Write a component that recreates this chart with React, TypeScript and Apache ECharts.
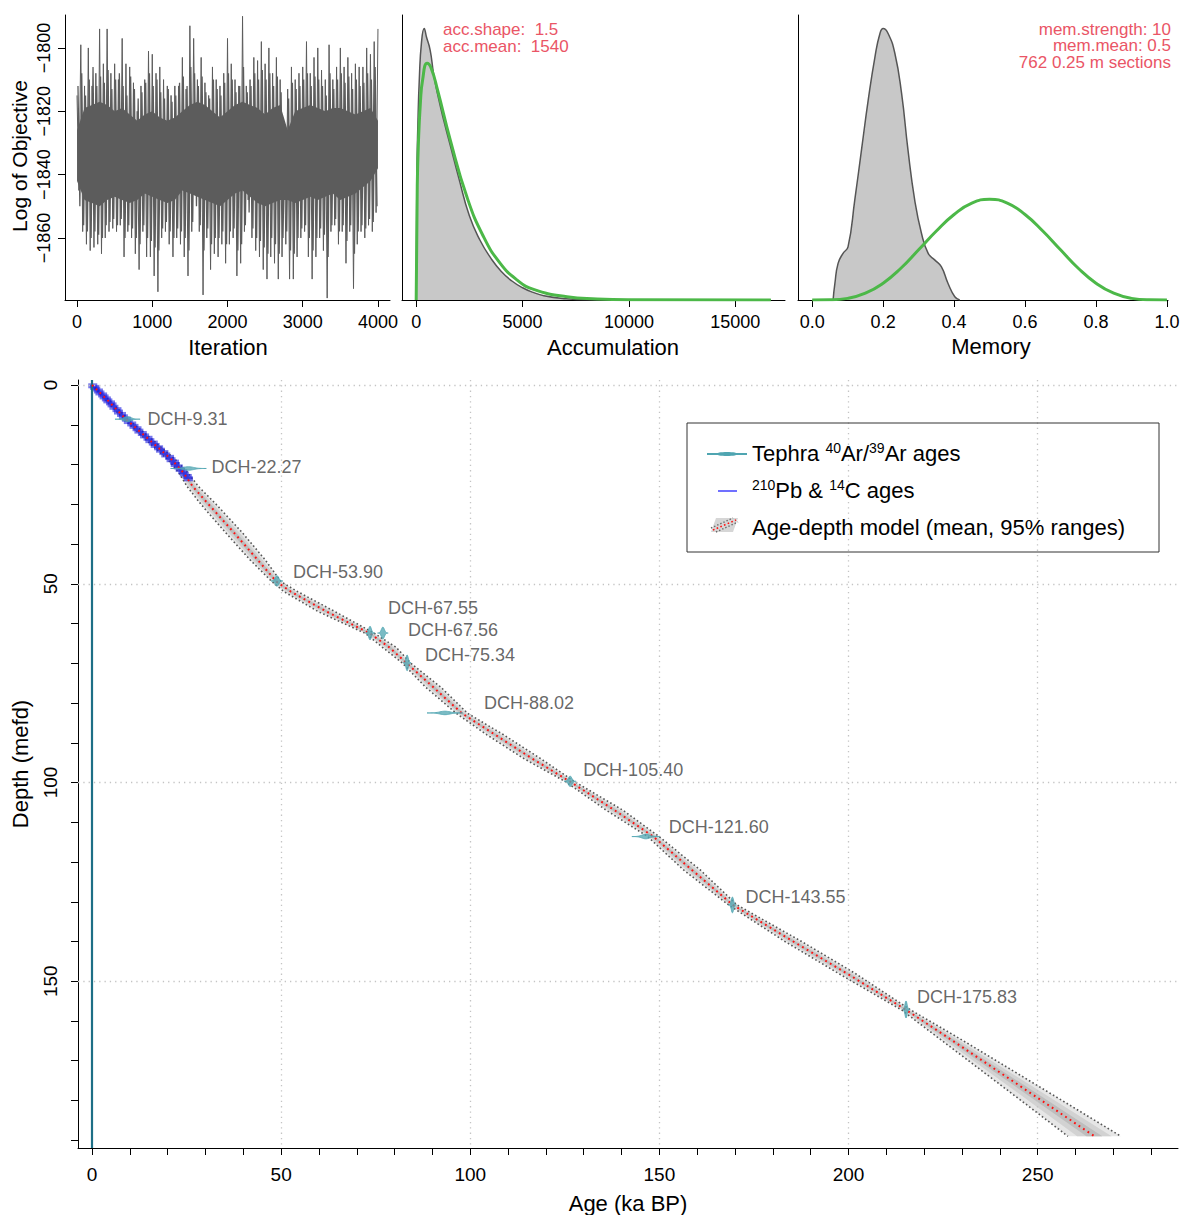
import React, { useEffect, useRef } from "react";
import * as echarts from "echarts";

const FONT = "'Liberation Sans', Arial, Helvetica, sans-serif";

// ---------------- Panel 1: MCMC trace (Log of Objective) ----------------
const iterTicks = [0, 1000, 2000, 3000, 4000];
const objTicks = [-1860, -1840, -1820, -1800];
const traceBinStep = 50;
const traceHigh = [
  -1815, -1799, -1812, -1800, -1812, -1808, -1794, -1805, -1794, -1808,
  -1805, -1810, -1797, -1805, -1806, -1811, -1820, -1812, -1810, -1801,
  -1802, -1808, -1806, -1810, -1812, -1815, -1812, -1812, -1803, -1813,
  -1793, -1797, -1810, -1803, -1811, -1815, -1806, -1810, -1812, -1808,
  -1797, -1805, -1810, -1812, -1790, -1812, -1810, -1803, -1804, -1798,
  -1805, -1800, -1808, -1803, -1810, -1824, -1813, -1806, -1810, -1808,
  -1806, -1798, -1808, -1803, -1800, -1807, -1810, -1799, -1810, -1806,
  -1800, -1806, -1803, -1808, -1805, -1806, -1806, -1800, -1802, -1798,
  -1794,
];
const traceLow = [
  -1845, -1858, -1862, -1864, -1863, -1862, -1865, -1860, -1858, -1857,
  -1858, -1856, -1866, -1858, -1860, -1865, -1870, -1858, -1866, -1866,
  -1872, -1877, -1860, -1858, -1862, -1866, -1860, -1862, -1866, -1872,
  -1858, -1845, -1858, -1878, -1860, -1870, -1865, -1866, -1862, -1868,
  -1862, -1860, -1872, -1868, -1858, -1848, -1860, -1864, -1866, -1870,
  -1873, -1866, -1868, -1873, -1866, -1862, -1873, -1873, -1866, -1860,
  -1858, -1866, -1873, -1866, -1860, -1864, -1879, -1858, -1856, -1862,
  -1858, -1868, -1858, -1876, -1862, -1858, -1860, -1856, -1858, -1852,
];
const traceMidHigh = [
  -1812, -1808, -1815, -1810, -1806, -1812, -1809, -1811, -1807, -1813,
  -1810, -1808, -1812, -1815, -1809, -1813, -1816, -1814, -1811, -1808,
  -1812, -1810, -1814, -1816, -1813, -1817, -1815, -1811, -1809, -1812,
  -1806, -1808, -1812, -1809, -1814, -1816, -1810, -1813, -1815, -1811,
  -1808, -1810, -1814, -1812, -1806, -1814, -1812, -1808, -1810, -1807,
  -1810, -1808, -1812, -1809, -1814, -1826, -1816, -1811, -1813, -1812,
  -1810, -1808, -1812, -1809, -1810, -1812, -1815, -1808, -1813, -1810,
  -1808, -1811, -1809, -1813, -1810, -1812, -1811, -1808, -1810, -1806,
];
const traceMidLow = [
  -1850, -1856, -1858, -1860, -1858, -1859, -1860, -1856, -1855, -1854,
  -1856, -1854, -1860, -1856, -1857, -1860, -1862, -1856, -1860, -1861,
  -1863, -1864, -1857, -1855, -1858, -1860, -1857, -1858, -1860, -1864,
  -1855, -1850, -1856, -1864, -1857, -1862, -1860, -1860, -1858, -1862,
  -1858, -1857, -1864, -1862, -1856, -1852, -1857, -1860, -1861, -1863,
  -1865, -1860, -1862, -1865, -1860, -1858, -1864, -1865, -1860, -1857,
  -1856, -1860, -1864, -1860, -1857, -1859, -1866, -1856, -1854, -1858,
  -1856, -1861, -1856, -1865, -1858, -1856, -1857, -1854, -1855, -1850,
];
const coreStep = 100;
const coreHigh = [
  -1826, -1819, -1818, -1817, -1818, -1820, -1819, -1821, -1823, -1821,
  -1820, -1822, -1823, -1822, -1820, -1818, -1817, -1818, -1820, -1822,
  -1820, -1818, -1817, -1818, -1819, -1821, -1819, -1818, -1826, -1820,
  -1819, -1818, -1819, -1820, -1819, -1819, -1820, -1821, -1820, -1819,
  -1823,
];
const coreLow = [
  -1842, -1848, -1849, -1850, -1848, -1847, -1848, -1849, -1848, -1846,
  -1847, -1848, -1849, -1848, -1845, -1846, -1847, -1848, -1849, -1850,
  -1848, -1846, -1845, -1847, -1849, -1850, -1849, -1848, -1848, -1849,
  -1848, -1847, -1848, -1847, -1846, -1848, -1847, -1846, -1844, -1842,
  -1838,
];

// ---------------- Panel 2: Accumulation ----------------
const accTicks = [0, 5000, 10000, 15000];
const accPostX = [0, 30, 80, 150, 250, 376, 480, 658, 815, 1000, 1300, 1600, 2000, 2500, 3000, 3500, 4000, 4500, 5000, 5500, 6000, 7000, 8000, 16667];
const accPost = [0, 0.45, 0.65, 0.82, 0.95, 1.0, 0.97, 0.92, 0.835, 0.76, 0.66, 0.57, 0.45, 0.31, 0.22, 0.155, 0.105, 0.07, 0.045, 0.028, 0.016, 0.005, 0.001, 0];
const accPriorX = [0, 50, 100, 200, 300, 513, 700, 1000, 1600, 2382, 3166, 3950, 4734, 5517, 7085, 8500, 10000, 16667];
const accPrior = [0, 0.42, 0.57, 0.73, 0.81, 0.872, 0.855, 0.775, 0.59, 0.38, 0.233, 0.135, 0.074, 0.039, 0.012, 0.004, 0.001, 0];
const accText = ["acc.shape:  1.5", "acc.mean:  1540"];

// ---------------- Panel 3: Memory ----------------
const memTicks = [0, 0.2, 0.4, 0.6, 0.8, 1.0];
const memPostX = [0.059, 0.064, 0.073, 0.087, 0.101, 0.12, 0.139, 0.158, 0.177, 0.191, 0.2, 0.214, 0.233, 0.252, 0.27, 0.289, 0.308, 0.327, 0.346, 0.364, 0.383, 0.402, 0.416];
const memPost = [0, 0.061, 0.135, 0.172, 0.196, 0.368, 0.553, 0.737, 0.896, 0.982, 1.0, 0.982, 0.909, 0.761, 0.553, 0.368, 0.246, 0.172, 0.147, 0.123, 0.061, 0.012, 0];
const memPriorX = [0, 0.05, 0.1, 0.15, 0.2, 0.25, 0.3, 0.35, 0.4, 0.45, 0.5, 0.55, 0.6, 0.65, 0.7, 0.75, 0.8, 0.85, 0.9, 0.95, 1.0];
const memPrior = [0, 0.0005, 0.006, 0.025, 0.062, 0.117, 0.185, 0.254, 0.315, 0.357, 0.371, 0.357, 0.315, 0.254, 0.185, 0.117, 0.062, 0.025, 0.006, 0.0005, 0];
const memText = ["mem.strength: 10", "mem.mean: 0.5", "762 0.25 m sections"];

// ---------------- Main: age-depth model ----------------
const ageTicks = [0, 10, 20, 30, 40, 50, 60, 70, 80, 90, 100, 110, 120, 130, 140, 150, 160, 170, 180, 190, 200, 210, 220, 230, 240, 250, 260, 270, 280];
const ageLabels = [0, 50, 100, 150, 200, 250];
const depthTicks = [0, 10, 20, 30, 40, 50, 60, 70, 80, 90, 100, 110, 120, 130, 140, 150, 160, 170, 180, 190];
const depthLabels = [0, 50, 100, 150];
const gridAges = [50, 100, 150, 200, 250];
const gridDepths = [0, 50, 100, 150];

const modelDepth = [0, 4, 8.8, 14, 18.8, 22, 25.6, 30, 37, 44, 49.5, 52, 57, 62.5, 66, 70, 76, 82.6, 88, 94, 99.8, 107, 113.6, 122, 130.8, 140, 148, 157.2, 165, 173, 181, 189];
const modelMean = [0, 4.3, 9.2, 15.4, 21.1, 24.1, 26.7, 30.8, 37.4, 43.8, 48.8, 52.6, 62.0, 73.5, 78.6, 83.2, 90.2, 97.8, 106.6, 116.4, 126.4, 138.2, 148.4, 158.6, 169.4, 185.4, 199.5, 215.2, 227.6, 240.1, 252.6, 265.0];
const modelLow = [0, 3.8, 8.6, 14.5, 20.1, 22.9, 25.2, 28.8, 35.2, 41.8, 47.6, 50.8, 59.8, 72.3, 76.8, 82.1, 88.2, 96.3, 104.4, 114.2, 125.2, 136.0, 146.9, 156.4, 168.3, 183.2, 197.3, 214.0, 224.8, 235.9, 247.0, 258.0];
const modelHigh = [0, 4.8, 9.8, 16.3, 22.1, 25.3, 28.2, 32.8, 39.6, 45.8, 50.0, 54.4, 64.2, 74.7, 80.4, 84.3, 92.2, 99.3, 108.8, 118.6, 127.6, 140.4, 149.9, 160.8, 170.5, 187.6, 201.7, 216.4, 230.4, 244.3, 258.2, 272.0];

const pbDepth = [0.2, 0.6, 1.0, 1.5, 2.0, 2.5, 3.0, 3.5, 4.0, 4.5, 5.0, 5.6, 6.2, 6.8, 7.4, 8.0, 8.6, 9.2, 9.8, 10.4, 11.0, 11.6, 12.2, 12.8, 13.4, 14.0, 14.6, 15.2, 15.8, 16.4, 17.0, 17.6, 18.2, 18.8, 19.4, 20.0, 20.6, 21.2, 21.8, 22.4, 23.0, 23.6];
const pbAge = [0.2, 0.7, 1.0, 1.7, 2.1, 2.8, 3.2, 3.8, 4.2, 4.9, 5.3, 5.8, 6.6, 7.0, 7.8, 8.3, 9.1, 9.6, 10.5, 11.1, 11.9, 12.4, 13.3, 13.9, 14.8, 15.3, 16.2, 16.7, 17.6, 18.1, 19.0, 19.5, 20.5, 20.9, 21.8, 22.0, 22.8, 23.3, 24.0, 24.4, 25.2, 25.5];

const tephraNames = ["DCH-9.31", "DCH-22.27", "DCH-53.90", "DCH-67.55", "DCH-67.56", "DCH-75.34", "DCH-88.02", "DCH-105.40", "DCH-121.60", "DCH-143.55", "DCH-175.83"];
const tephraAge = [9.4, 25.5, 48.9, 73.5, 76.9, 83.3, 93.3, 126.4, 146.4, 169.3, 215.2];
const tephraSd = [0.95, 1.35, 0.45, 0.35, 0.4, 0.3, 1.35, 0.45, 1.05, 0.3, 0.28];
const tephraDepth = [8.6, 21.0, 49.3, 62.4, 62.4, 69.9, 82.5, 99.7, 113.6, 130.8, 157.1];
// label offsets in pixels (style)
const tephraLabelOffset = [[20, 0], [23, -1], [16, -9], [18, -25], [25, -3], [18, -8], [39, -10], [13, -11], [23, -10], [13, -8], [11, -12]];

const TEAL = "#4fa5b1";
const tephraArea = 1.5;

export default function App() {
  const ref = useRef<HTMLDivElement>(null);

  useEffect(() => {
    if (!ref.current) return;
    const chart = echarts.init(ref.current, undefined, { renderer: "svg" });

    const axisLine = { show: true, onZero: false, lineStyle: { color: "#000", width: 1 } };
    const tick = (vals: number[]) => ({ show: true, inside: false, length: 7, customValues: vals, lineStyle: { color: "#000", width: 1 } });
    const label = (vals: number[], size: number, margin: number, fmt?: (v: number) => string, rotate?: number) => ({
      show: true,
      customValues: vals,
      color: "#000",
      fontSize: size,
      fontFamily: FONT,
      margin,
      rotate: rotate || 0,
      formatter: fmt || ((v: number) => String(v)),
    });

    const tracePts: number[][] = [];
    for (let i = 0; i < traceHigh.length; i++) {
      tracePts.push([i * traceBinStep, traceHigh[i]]);
      if (i < traceLow.length) tracePts.push([i * traceBinStep + traceBinStep / 2, traceLow[i]]);
    }
    const midPts: number[][] = [];
    for (let i = 0; i < traceMidHigh.length; i++) {
      midPts.push([i * traceBinStep + traceBinStep / 4, traceMidHigh[i]]);
      midPts.push([i * traceBinStep + (3 * traceBinStep) / 4, traceMidLow[i]]);
    }

    const txt = (text: string, x: number, y: number, size: number, extra: any = {}) => ({
      type: "text",
      x,
      y,
      z: 10,
      ...extra,
      style: {
        text,
        fontSize: size,
        fontFamily: FONT,
        fill: "#000",
        align: "center",
        verticalAlign: "middle",
        textAlign: "center",
        textVerticalAlign: "middle",
        ...(extra.style || {}),
      },
    });
    const legRich = {
      s: { fontSize: 14, lineHeight: 14, verticalAlign: "top", fontFamily: FONT, fill: "#000", color: "#000" },
    };

    const option: any = {
      animation: false,
      backgroundColor: "#ffffff",
      textStyle: { fontFamily: FONT },
      grid: [
        { left: 65, top: 15, width: 325, height: 285 },
        { left: 402, top: 15, width: 383, height: 285 },
        { left: 798, top: 15, width: 370, height: 285 },
        { left: 78, top: 380, width: 1100, height: 768 },
      ],
      xAxis: [
        { type: "value", gridIndex: 0, min: -160, max: 4160, axisLine, axisTick: tick(iterTicks), axisLabel: label(iterTicks, 18, 13), splitLine: { show: false } },
        { type: "value", gridIndex: 1, min: -667, max: 17333, axisLine, axisTick: tick(accTicks), axisLabel: label(accTicks, 18, 13), splitLine: { show: false } },
        { type: "value", gridIndex: 2, min: -0.04, max: 1.003, axisLine, axisTick: tick(memTicks), axisLabel: label(memTicks, 18, 13, (v: number) => v.toFixed(1)), splitLine: { show: false } },
        { type: "value", gridIndex: 3, min: -3.7, max: 287.1, axisLine, axisTick: tick(ageTicks), axisLabel: label(ageLabels, 19, 17), splitLine: { show: false } },
      ],
      yAxis: [
        { type: "value", gridIndex: 0, min: -1879.6, max: -1789.6, axisLine, axisTick: tick(objTicks), axisLabel: label(objTicks, 18, 12, (v: number) => String(v).replace("-", "\u2212"), 90), splitLine: { show: false } },
        { type: "value", gridIndex: 1, min: 0, max: 1.05, axisLine, axisTick: { show: false }, axisLabel: { show: false }, splitLine: { show: false } },
        { type: "value", gridIndex: 2, min: 0, max: 1.05, axisLine, axisTick: { show: false }, axisLabel: { show: false }, splitLine: { show: false } },
        { type: "value", gridIndex: 3, min: -1.26, max: 191.95, inverse: true, axisLine, axisTick: tick(depthTicks), axisLabel: label(depthLabels, 19, 18, undefined, 90), splitLine: { show: false } },
      ],
      series: [
        // Panel 1
        {
          type: "line", xAxisIndex: 0, yAxisIndex: 0, silent: true, z: 2, symbol: "none",
          data: tracePts, lineStyle: { color: "#5c5c5c", width: 1 },
        },
        {
          type: "line", xAxisIndex: 0, yAxisIndex: 0, silent: true, z: 3, symbol: "none",
          data: midPts, lineStyle: { color: "#5c5c5c", width: 1.3 },
        },
        {
          type: "custom", xAxisIndex: 0, yAxisIndex: 0, silent: true, z: 4,
          data: [[0, coreHigh[0]]],
          renderItem: (_p: any, api: any) => {
            const pts: number[][] = [];
            for (let i = 0; i < coreHigh.length; i++) pts.push(api.coord([i * coreStep, coreHigh[i]]));
            for (let i = coreLow.length - 1; i >= 0; i--) pts.push(api.coord([i * coreStep, coreLow[i]]));
            return { type: "polygon", shape: { points: pts }, style: { fill: "#5c5c5c" } };
          },
        },
        // Panel 2
        {
          type: "line", xAxisIndex: 1, yAxisIndex: 1, silent: true, z: 2, symbol: "none", smooth: 0.5,
          data: accPostX.map((x, i) => [x, accPost[i]]),
          lineStyle: { color: "#555", width: 1.5 }, areaStyle: { color: "#c8c8c8", opacity: 1 },
        },
        {
          type: "line", xAxisIndex: 1, yAxisIndex: 1, silent: true, z: 3, symbol: "none", smooth: 0.5,
          data: accPriorX.map((x, i) => [x, accPrior[i]]),
          lineStyle: { color: "#4cb848", width: 3 },
        },
        // Panel 3
        {
          type: "line", xAxisIndex: 2, yAxisIndex: 2, silent: true, z: 2, symbol: "none", smooth: 0.5,
          data: memPostX.map((x, i) => [x, memPost[i]]),
          lineStyle: { color: "#555", width: 1.5 }, areaStyle: { color: "#c8c8c8", opacity: 1 },
        },
        {
          type: "line", xAxisIndex: 2, yAxisIndex: 2, silent: true, z: 3, symbol: "none", smooth: 0.5,
          data: memPriorX.map((x, i) => [x, memPrior[i]]),
          lineStyle: { color: "#4cb848", width: 3 },
        },
        // Main: grid lines + age-0 line
        {
          type: "line", xAxisIndex: 3, yAxisIndex: 3, silent: true, z: 1, data: [],
          markLine: {
            silent: true, symbol: "none", label: { show: false },
            lineStyle: { color: "#c4c4c4", width: 1.3, type: [1.3, 4] },
            data: [
              ...gridAges.map((a) => ({ xAxis: a })),
              ...gridDepths.map((d) => ({ yAxis: d })),
              { xAxis: 0, lineStyle: { color: "#1d6f86", width: 2.2, type: "solid" } },
            ],
          },
        },
        // Main: shaded 95% band
        {
          type: "custom", xAxisIndex: 3, yAxisIndex: 3, silent: true, z: 2,
          data: [[modelMean[10], modelDepth[10]]],
          renderItem: (_p: any, api: any) => {
            const outer: number[][] = [];
            const mid: number[][] = [];
            const inner: number[][] = [];
            for (let i = 0; i < modelDepth.length; i++) {
              outer.push(api.coord([modelLow[i], modelDepth[i]]));
              mid.push(api.coord([modelMean[i] - (modelMean[i] - modelLow[i]) * 0.65, modelDepth[i]]));
              inner.push(api.coord([modelMean[i] - (modelMean[i] - modelLow[i]) * 0.3, modelDepth[i]]));
            }
            for (let i = modelDepth.length - 1; i >= 0; i--) {
              outer.push(api.coord([modelHigh[i], modelDepth[i]]));
              mid.push(api.coord([modelMean[i] + (modelHigh[i] - modelMean[i]) * 0.65, modelDepth[i]]));
              inner.push(api.coord([modelMean[i] + (modelHigh[i] - modelMean[i]) * 0.3, modelDepth[i]]));
            }
            return {
              type: "group",
              children: [
                { type: "polygon", shape: { points: outer }, style: { fill: "#e6e6e6" } },
                { type: "polygon", shape: { points: mid }, style: { fill: "#d2d2d2" } },
                { type: "polygon", shape: { points: inner }, style: { fill: "#bdbdbd" } },
              ],
            };
          },
        },
        {
          type: "line", xAxisIndex: 3, yAxisIndex: 3, silent: true, z: 3, symbol: "none",
          data: modelLow.map((a, i) => [a, modelDepth[i]]),
          lineStyle: { color: "#555", width: 1.6, type: [1.6, 2.4] },
        },
        {
          type: "line", xAxisIndex: 3, yAxisIndex: 3, silent: true, z: 3, symbol: "none",
          data: modelHigh.map((a, i) => [a, modelDepth[i]]),
          lineStyle: { color: "#555", width: 1.6, type: [1.6, 2.4] },
        },
        // 210Pb & 14C ages
        {
          type: "scatter", xAxisIndex: 3, yAxisIndex: 3, silent: true, z: 4,
          symbol: "rect", symbolSize: [9, 5],
          itemStyle: { color: "rgba(30,30,225,0.75)" },
          data: pbAge.map((a, i) => [a, pbDepth[i]]),
        },
        // mean
        {
          type: "line", xAxisIndex: 3, yAxisIndex: 3, silent: true, z: 5, symbol: "none",
          data: modelMean.map((a, i) => [a, modelDepth[i]]),
          lineStyle: { color: "#ff1010", width: 2, type: [1.8, 3.6] },
        },
        // tephra
        {
          type: "custom", xAxisIndex: 3, yAxisIndex: 3, silent: true, z: 6,
          data: tephraAge.map((a, i) => [a, tephraDepth[i], tephraSd[i]]),
          renderItem: (_p: any, api: any) => {
            const a = api.value(0);
            const d = api.value(1);
            const s = api.value(2);
            const top: number[][] = [];
            const bot: number[][] = [];
            for (let k = -3.5; k <= 3.5001; k += 0.25) {
              const h = (tephraArea * Math.exp((-k * k) / 2)) / (s * 2.5066);
              top.push(api.coord([a + k * s, d - h]));
              bot.push(api.coord([a + k * s, d + h]));
            }
            return {
              type: "polygon",
              shape: { points: top.concat(bot.reverse()) },
              style: { fill: "rgba(85,168,180,0.78)", stroke: TEAL, lineWidth: 0.8 },
            };
          },
        },
        // tephra labels
        {
          type: "scatter", xAxisIndex: 3, yAxisIndex: 3, silent: true, z: 7,
          symbolSize: 0,
          data: tephraNames.map((n, i) => ({
            name: n,
            value: [tephraAge[i], tephraDepth[i]],
            label: { offset: tephraLabelOffset[i] },
          })),
          label: {
            show: true, position: "right", distance: 0,
            formatter: (p: any) => p.name,
            color: "#404040", fontSize: 18, fontFamily: FONT,
          },
        },
      ],
      graphic: [
        // axis titles
        txt("Iteration", 228, 347, 22),
        txt("Accumulation", 613, 347, 22),
        txt("Memory", 991, 346, 22),
        txt("Log of Objective", 19, 156, 21, { rotation: Math.PI / 2 }),
        txt("Age (ka BP)", 628, 1203, 22),
        txt("Depth (mefd)", 20, 764, 22, { rotation: Math.PI / 2 }),
        // red annotations
        ...accText.map((t, i) => txt(t, 443, 29 + i * 17, 17, { style: { fill: "#ea5566", align: "left", textAlign: "left" } })),
        ...memText.map((t, i) => txt(t, 1171, 29 + i * 16.8, 17, { style: { fill: "#ea5566", align: "right", textAlign: "right" } })),
        // legend
        { type: "rect", shape: { x: 687, y: 423, width: 472, height: 129 }, style: { fill: "rgba(0,0,0,0)", stroke: "#333", lineWidth: 1 }, z: 10 },
        { type: "line", shape: { x1: 707, y1: 454, x2: 747, y2: 454 }, style: { stroke: TEAL, lineWidth: 2 }, z: 10 },
        { type: "ellipse", shape: { cx: 727, cy: 454, rx: 11, ry: 2 }, style: { fill: TEAL }, z: 10 },
        { type: "line", shape: { x1: 718, y1: 491, x2: 737, y2: 491 }, style: { stroke: "#7070ff", lineWidth: 2 }, z: 10 },
        { type: "polygon", shape: { points: [[711, 532], [716, 518], [738, 518], [733, 532]] }, style: { fill: "#d6d6d6" }, z: 10 },
        { type: "line", shape: { x1: 711, y1: 528, x2: 733, y2: 518 }, style: { stroke: "#666", lineWidth: 1.4, lineDash: [1.4, 2] }, z: 10 },
        { type: "line", shape: { x1: 716, y1: 532, x2: 738, y2: 522 }, style: { stroke: "#666", lineWidth: 1.4, lineDash: [1.4, 2] }, z: 10 },
        { type: "line", shape: { x1: 713, y1: 530, x2: 736, y2: 520 }, style: { stroke: "#ff1010", lineWidth: 1.6, lineDash: [1.6, 2.4] }, z: 10 },
        txt("Tephra {s|40}Ar/{s|39}Ar ages", 752, 453, 22, { style: { align: "left", textAlign: "left", lineHeight: 24, rich: legRich } }),
        txt("{s|210}Pb & {s|14}C ages", 752, 490, 22, { style: { align: "left", textAlign: "left", lineHeight: 24, rich: legRich } }),
        txt("Age-depth model (mean, 95% ranges)", 752, 527, 22, { style: { align: "left", textAlign: "left" } }),
      ],
    };

    chart.setOption(option);
    return () => chart.dispose();
  }, []);

  return <div ref={ref} style={{ position: "absolute", left: 0, top: 0, width: 1184, height: 1215, background: "#fff" }} />;
}
